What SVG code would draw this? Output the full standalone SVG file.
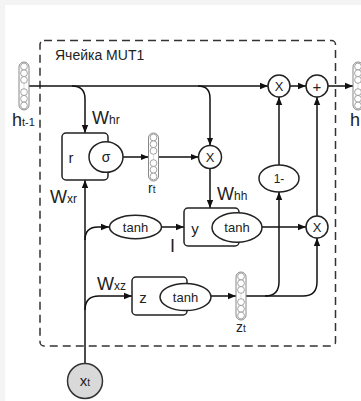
<svg xmlns="http://www.w3.org/2000/svg" xmlns:xlink="http://www.w3.org/1999/xlink" width="361" height="401" viewBox="0 0 361 401">
<style>
  .ln{fill:none;stroke:#111;stroke-width:1.5}
  .ar{marker-end:url(#ah)}
  .nd{fill:#fff;stroke:#222;stroke-width:1.5}
  .tx{font-family:"Liberation Sans",Arial,sans-serif;fill:#222}
  .c{text-anchor:middle;dominant-baseline:central}
  .w{font-size:18px}
  .sub{font-size:12px}
  .in{font-size:13px}
  .vb{fill:#fff;stroke:#888;stroke-width:1}
  .vc{fill:#fff;stroke:#999;stroke-width:0.9}
</style>
<defs>
  <marker id="ah" viewBox="0 0 10 10" refX="10" refY="5" markerWidth="8" markerHeight="8" markerUnits="userSpaceOnUse" orient="auto">
    <path d="M0,1 L10,5 L0,9 Z" fill="#111"/>
  </marker>
  <g id="vec">
    <rect class="vb" x="-5" y="-24" width="10" height="48" rx="5"/>
    <circle class="vc" cx="0" cy="-19.5" r="3.4"/>
    <circle class="vc" cx="0" cy="-12.8" r="3.4"/>
    <circle class="vc" cx="0" cy="-6.1" r="3.4"/>
    <line x1="0" y1="-2.5" x2="0" y2="2.5" stroke="#aaa" stroke-width="0.8" stroke-dasharray="1 1"/>
    <circle class="vc" cx="0" cy="6.1" r="3.4"/>
    <circle class="vc" cx="0" cy="12.8" r="3.4"/>
    <circle class="vc" cx="0" cy="19.5" r="3.4"/>
  </g>
</defs>
<rect x="0" y="0" width="361" height="401" fill="#f4f4f4"/>
<rect x="5" y="5" width="356" height="396" fill="#fff"/>

<g id="cell">
  <rect x="40" y="40.5" width="295.5" height="305.5" rx="4" fill="none" stroke="#333" stroke-width="1.5" stroke-dasharray="8 5"/>
  <text class="tx" x="55" y="60" font-size="14">Ячейка MUT1</text>
</g>

<g id="edges">
  <path class="ln ar" d="M29,86 L268,86"/>
  <path class="ln ar" d="M290,86 L306,86"/>
  <path class="ln ar" d="M328,86 L353,86"/>
  <path class="ln ar" d="M72,86 Q85,86 85,99 L85,133"/>
  <path class="ln ar" d="M198,86 Q210,86 210,98 L210,145.5"/>
  <path class="ln ar" d="M123,157 L148.5,157"/>
  <path class="ln ar" d="M158.5,157 L198.5,157"/>
  <path class="ln ar" d="M210,168.5 L210,208"/>
  <path class="ln ar" d="M85,363.5 L85,180"/>
  <path class="ln ar" d="M85,240 Q85,227 98,227 L109,227"/>
  <path class="ln ar" d="M161,227 L184,227"/>
  <path class="ln ar" d="M262,227 L306,227"/>
  <path class="ln ar" d="M85,310 Q85,296 99,296 L132,296"/>
  <path class="ln ar" d="M211,296 L236,296"/>
  <path class="ln ar" d="M246,296 L303,296 Q317,296 317,282 L317,238"/>
  <path class="ln ar" d="M265,296 Q279,296 279,282 L279,192"/>
  <path class="ln ar" d="M279,165 L279,97"/>
  <path class="ln ar" d="M317,216 L317,97"/>
  <text class="tx w" x="92" y="124">W<tspan class="sub">hr</tspan></text>
  <text class="tx w" x="50" y="203">W<tspan class="sub">xr</tspan></text>
  <text class="tx w" x="217" y="200">W<tspan class="sub">hh</tspan></text>
  <text class="tx w" x="97" y="290">W<tspan class="sub">xz</tspan></text>
  <text class="tx w" x="170" y="252">I</text>
</g>

<g id="h_prev">
  <use xlink:href="#vec" x="24" y="86"/>
  <text class="tx" x="12" y="126" font-size="18">h<tspan font-size="11">t-1</tspan></text>
</g>

<g id="h_next">
  <use xlink:href="#vec" x="358" y="86"/>
  <text class="tx" x="350" y="126" font-size="18">h</text>
</g>

<g id="r_gate">
  <rect class="nd" x="62" y="133" width="46" height="47" rx="4"/>
  <ellipse class="nd" cx="106" cy="157" rx="17" ry="15.3"/>
  <text class="tx c" x="71" y="157" font-size="15">r</text>
  <text class="tx c" x="106" y="157" font-size="14">σ</text>
</g>

<g id="r_t">
  <use xlink:href="#vec" x="153.5" y="157"/>
  <text class="tx" x="148" y="193" font-size="14">r<tspan font-size="10">t</tspan></text>
</g>

<g id="mul_r">
  <circle class="nd" cx="210" cy="157" r="11.5"/>
  <text class="tx c in" x="210" y="157.5">X</text>
</g>

<g id="tanh_x">
  <ellipse class="nd" cx="135.5" cy="227" rx="26" ry="11.7"/>
  <text class="tx c in" x="135.5" y="227">tanh</text>
</g>

<g id="y_gate">
  <rect class="nd" x="184" y="208" width="55" height="38" rx="4"/>
  <ellipse class="nd" cx="237" cy="227.5" rx="25" ry="14.8"/>
  <text class="tx c" x="195" y="228" font-size="15">y</text>
  <text class="tx c in" x="237" y="227.5">tanh</text>
</g>

<g id="z_gate">
  <rect class="nd" x="132" y="277" width="55" height="38" rx="4"/>
  <ellipse class="nd" cx="185.5" cy="297" rx="25.5" ry="13.5"/>
  <text class="tx c" x="143" y="297" font-size="15">z</text>
  <text class="tx c in" x="185.5" y="297">tanh</text>
</g>

<g id="z_t">
  <use xlink:href="#vec" x="241" y="296"/>
  <text class="tx" x="236" y="332" font-size="14">z<tspan font-size="10">t</tspan></text>
</g>

<g id="one_minus">
  <ellipse class="nd" cx="279" cy="178.5" rx="20" ry="13.5"/>
  <text class="tx c" x="279" y="178.5" font-size="12">1-</text>
</g>

<g id="mul_top">
  <circle class="nd" cx="279" cy="86" r="11"/>
  <text class="tx c in" x="279" y="86.5">X</text>
</g>

<g id="add">
  <circle class="nd" cx="317" cy="86" r="11"/>
  <text class="tx c" x="317" y="86" font-size="15">+</text>
</g>

<g id="mul_y">
  <circle class="nd" cx="317" cy="227" r="11"/>
  <text class="tx c in" x="317" y="227.5">X</text>
</g>

<g id="x_t">
  <circle cx="85" cy="381" r="17.5" fill="#d9d9d9" stroke="#333" stroke-width="1.5"/>
  <text class="tx" x="85" y="386" font-size="15" text-anchor="middle">x<tspan font-size="10">t</tspan></text>
</g>
</svg>
